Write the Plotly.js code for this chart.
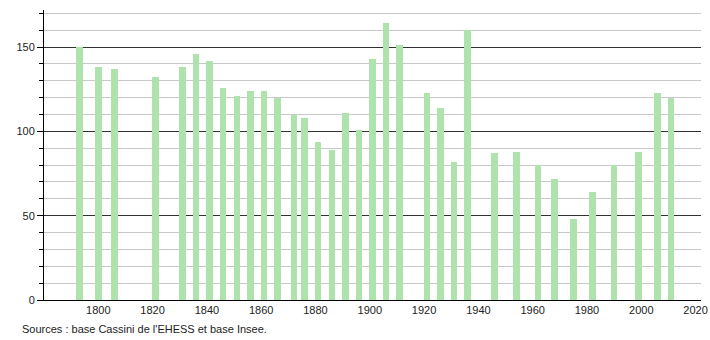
<!DOCTYPE html>
<html>
<head>
<meta charset="utf-8">
<script src="https://cdn.plot.ly/plotly-3.0.1.min.js"></script>
<style>html,body{margin:0;padding:0;background:#fff;}#chart{width:710px;height:340px;}</style>
</head>
<body>
<div id="chart"></div>
<script>
const years = [1793, 1800, 1806, 1821, 1831, 1836, 1841, 1846, 1851, 1856, 1861, 1866, 1872, 1876, 1881, 1886, 1891, 1896, 1901, 1906, 1911, 1921, 1926, 1931, 1936, 1946, 1954, 1962, 1968, 1975, 1982, 1990, 1999, 2006, 2011];
const population = [150, 138, 137, 132, 138, 146, 142, 126, 121, 124, 124, 120, 110, 108, 94, 89, 111, 101, 143, 164, 151, 123, 114, 82, 160, 87, 88, 80, 72, 48, 64, 80, 88, 123, 120];
const xTicks = [1800, 1820, 1840, 1860, 1880, 1900, 1920, 1940, 1960, 1980, 2000, 2020];
const yTicks = [0, 50, 100, 150];
const sourceText = "Sources : base Cassini de l'EHESS et base Insee.";

const trace = {
  type: 'bar',
  x: years,
  y: population,
  width: 2.4,
  marker: {color: 'rgb(174,227,174)', line: {width: 0}},
  hoverinfo: 'x+y'
};

const layout = {
  width: 710, height: 340,
  margin: {l: 44, r: 9, t: 10, b: 40},
  paper_bgcolor: '#fff', plot_bgcolor: '#fff',
  font: {family: 'Liberation Sans, Arial, sans-serif', size: 11, color: '#222'},
  showlegend: false,
  bargap: 0,
  xaxis: {
    range: [1780, 2022],
    tickvals: xTicks,
    ticktext: xTicks.map(String),
    showgrid: false,
    zeroline: false,
    showline: true, linecolor: '#000', linewidth: 1,
    ticks: '', ticklen: 0,
    fixedrange: true
  },
  yaxis: {
    range: [0, 172],
    tickvals: yTicks,
    ticktext: yTicks.map(String),
    showgrid: true, gridcolor: '#333', gridwidth: 1,
    zeroline: false,
    showline: true, linecolor: '#000', linewidth: 1,
    ticks: 'outside', ticklen: 6, tickcolor: '#000',
    minor: {dtick: 10, tick0: 0, showgrid: true, gridcolor: '#c8c8c8', gridwidth: 1, ticks: 'outside', ticklen: 4, tickcolor: '#000'},
    fixedrange: true
  },
  annotations: [{
    text: sourceText,
    xref: 'paper', yref: 'paper',
    x: -0.037, y: -0.1,
    xanchor: 'left', yanchor: 'middle',
    showarrow: false,
    font: {size: 11, color: '#222'}
  }]
};

Plotly.newPlot('chart', [trace], layout, {displayModeBar: false, staticPlot: true});
</script>
</body>
</html>
